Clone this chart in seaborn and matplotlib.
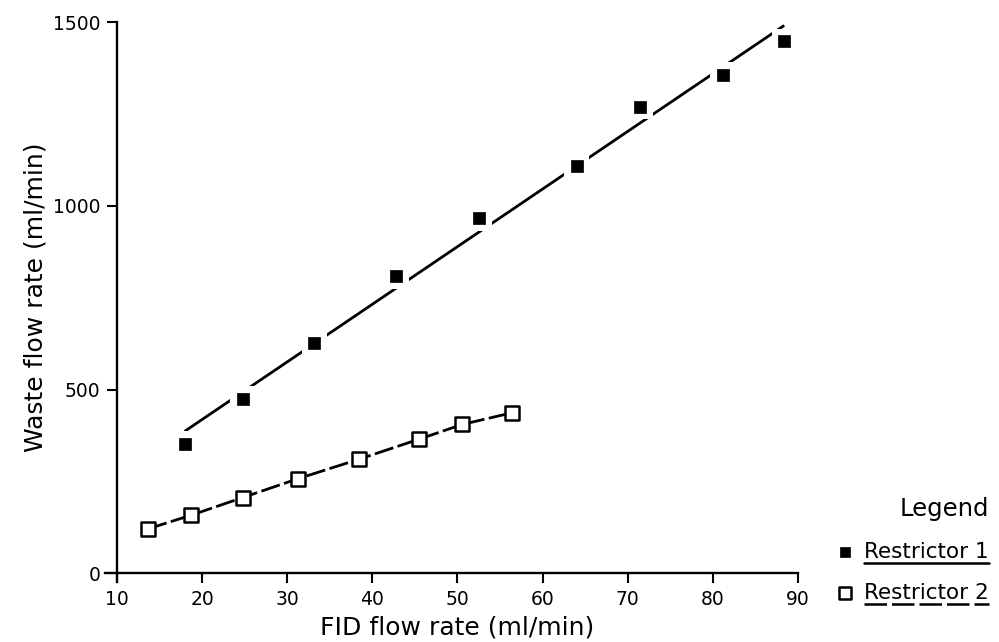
import matplotlib
matplotlib.use("Agg")
import matplotlib.pyplot as plt
from matplotlib.lines import Line2D
import seaborn as sns

# Measured flow rates (ml/min)
fid_r1 = [17.96, 24.77, 33.18, 42.77, 52.55, 64.0, 71.45, 81.15, 88.38]
waste_r1 = [352, 474, 628, 809, 966, 1108, 1270, 1356, 1447]
fid_r2 = [13.66, 18.71, 24.77, 31.22, 38.38, 45.5, 50.55, 56.45]
waste_r2 = [121, 158, 206, 257, 310, 365, 405, 437]
series_names = ["Restrictor 1", "Restrictor 2"]
x_ticks = [10, 20, 30, 40, 50, 60, 70, 80, 90]
y_ticks = [0, 500, 1000, 1500]

sns.set_theme(style="ticks")
plt.rcParams["font.family"] = ["DejaVu Sans"]
plt.rcParams["text.color"] = "black"
plt.rcParams["axes.labelcolor"] = "black"
plt.rcParams["xtick.color"] = "black"
plt.rcParams["ytick.color"] = "black"

fig = plt.figure(figsize=(9.99, 6.42), dpi=100)
ax = fig.add_axes([0.117, 0.107, 0.6818, 0.8587])

# Restrictor 1: least-squares line through the points
sns.regplot(x=fid_r1, y=waste_r1, ax=ax, ci=None, scatter=False, truncate=True,
            color="black", line_kws=dict(lw=2.0, zorder=2, solid_capstyle="butt"))
# white halo so the fitted line breaks around each marker
sns.scatterplot(x=fid_r1, y=waste_r1, ax=ax, marker="s", s=330, color="white",
                edgecolor="none", linewidth=0, zorder=3, legend=False)
sns.scatterplot(x=fid_r1, y=waste_r1, ax=ax, marker="s", s=68, color="black",
                edgecolor="black", linewidth=0.5, zorder=4, legend=False,
                label=series_names[0])

# Restrictor 2: dashed line joining the points
sns.lineplot(x=fid_r2, y=waste_r2, ax=ax, sort=False, color="black", lw=2.0,
             zorder=2, legend=False)
ax.lines[-1].set_dashes([7, 1.6])
sns.scatterplot(x=fid_r2, y=waste_r2, ax=ax, marker="s", s=90, facecolor="white",
                edgecolor="black", linewidth=1.8, zorder=4, legend=False,
                label=series_names[1])

ax.set_xlim(10, 90)
ax.set_ylim(0, 1500)
ax.set_xticks(x_ticks)
ax.set_yticks(y_ticks)
sns.despine(ax=ax)
for side in ("left", "bottom"):
    ax.spines[side].set_linewidth(1.7)
    ax.spines[side].set_color("black")
# axes cross slightly past the origin
ax.spines["bottom"].set_bounds(8.6, 90)
ax.spines["left"].set_bounds(-25, 1500)
ax.tick_params(direction="out", length=7, width=1.5, labelsize=13.5, pad=5)

ax.set_xlabel("FID flow rate (ml/min)", fontsize=18, labelpad=5)
ax.set_ylabel("Waste flow rate (ml/min)", fontsize=18, labelpad=4)

handles, labels = ax.get_legend_handles_labels()
if ax.get_legend() is not None:
    ax.get_legend().remove()
leg = fig.legend(handles, labels, title="Legend", loc="upper left",
                 bbox_to_anchor=(0.826, 0.240), frameon=False, fontsize=15.5,
                 title_fontsize=17.5, alignment="right", handletextpad=0.4,
                 labelspacing=0.98, handlelength=1.0, markerscale=0.85,
                 borderaxespad=0)

# underline the legend entries
fig.canvas.draw()
renderer = fig.canvas.get_renderer()
W, H = fig.bbox.width, fig.bbox.height
for i, txt in enumerate(leg.get_texts()):
    bb = txt.get_window_extent(renderer)
    y = bb.y0 - 1
    ls = "-" if i == 0 else (0, (9, 2))
    fig.add_artist(Line2D([bb.x0 / W, bb.x1 / W], [y / H, y / H],
                          transform=fig.transFigure, color="black", lw=1.8,
                          linestyle=ls))

fig.savefig("out.png", dpi=100, facecolor="white")
